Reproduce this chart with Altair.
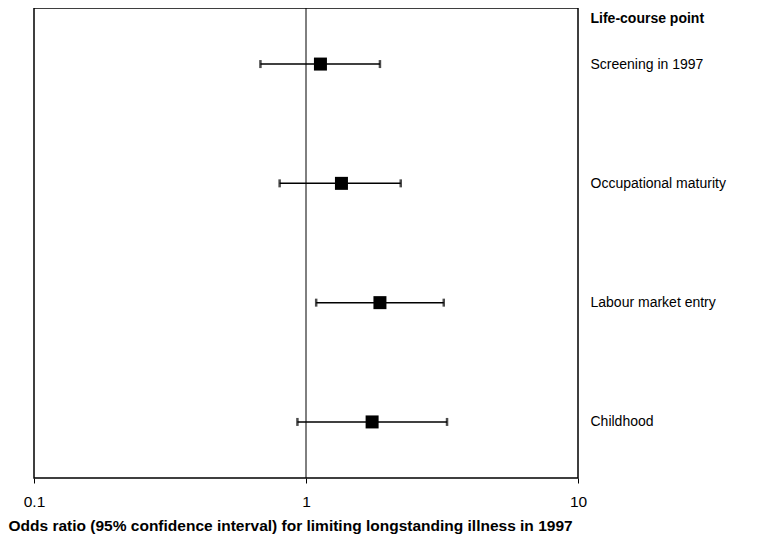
import altair as alt
import pandas as pd

points = ["Screening in 1997", "Occupational maturity", "Labour market entry", "Childhood"]
odds = [1.13, 1.35, 1.87, 1.75]
lower = [0.68, 0.80, 1.09, 0.93]
upper = [1.87, 2.23, 3.21, 3.30]
ticks = [0.1, 1, 10]

df = pd.DataFrame({"point": points, "or": odds, "lo": lower, "hi": upper})

xscale = alt.Scale(type="log", domain=[0.1, 10], nice=False)
yscale = alt.Scale(domain=points, type="point", padding=0.47)

FONT = "Liberation Sans"

xaxis = alt.Axis(
    values=ticks, labelExpr="datum.value == 0.1 ? '0.1' : format(datum.value, 'd')",
    grid=False, domain=False, tickSize=5, tickColor="black", tickWidth=1,
    labelFontSize=15.5, labelColor="black", labelPadding=11, labelFont=FONT,
    labelFlush=False,
    title="Odds ratio (95% confidence interval) for limiting longstanding illness in 1997",
    titleFontSize=15.5, titleFontWeight="bold", titleColor="black", titleFont=FONT,
    titleAnchor="start", titleAlign="left", titleX=-26, titlePadding=9,
)
yaxis = alt.Axis(
    orient="right", domain=False, ticks=False, grid=False, labelPadding=12,
    labelAlign="left", labelFontSize=14, labelColor="black", labelFont=FONT,
    title="Life-course point", titleAngle=0, titleAlign="left", titleBaseline="middle",
    titleX=12, titleY=10, titleFontSize=14, titleFontWeight="bold", titleColor="black",
    titleFont=FONT,
)

base = alt.Chart(df)

ref = alt.Chart(pd.DataFrame({"v": [1]})).mark_rule(color="black", strokeWidth=1).encode(
    x=alt.X("v:Q", scale=xscale, axis=xaxis)
)

bars = base.mark_rule(color="black", strokeWidth=1.5).encode(
    x=alt.X("lo:Q", scale=xscale, axis=xaxis),
    x2="hi:Q",
    y=alt.Y("point:N", scale=yscale, sort=points, axis=yaxis),
)
cap_lo = base.mark_tick(color="black", orient="vertical", thickness=2.5, size=8).encode(
    x=alt.X("lo:Q", scale=xscale), y=alt.Y("point:N", scale=yscale, sort=points)
)
cap_hi = base.mark_tick(color="black", orient="vertical", thickness=2.5, size=8).encode(
    x=alt.X("hi:Q", scale=xscale), y=alt.Y("point:N", scale=yscale, sort=points)
)
sq = base.mark_square(color="black", filled=True, opacity=1, size=169).encode(
    x=alt.X("or:Q", scale=xscale), y=alt.Y("point:N", scale=yscale, sort=points)
)

chart = alt.layer(ref, bars, cap_lo, cap_hi, sq).properties(
    width=544, height=470,
    background="white",
    autosize=alt.AutoSizeParams(type="none"),
    padding={"left": 26, "top": 0, "right": 170, "bottom": 62},
).configure_view(stroke="black", strokeWidth=1.5)

chart.save("out.html", embed_options={"renderer": "svg", "actions": False})
